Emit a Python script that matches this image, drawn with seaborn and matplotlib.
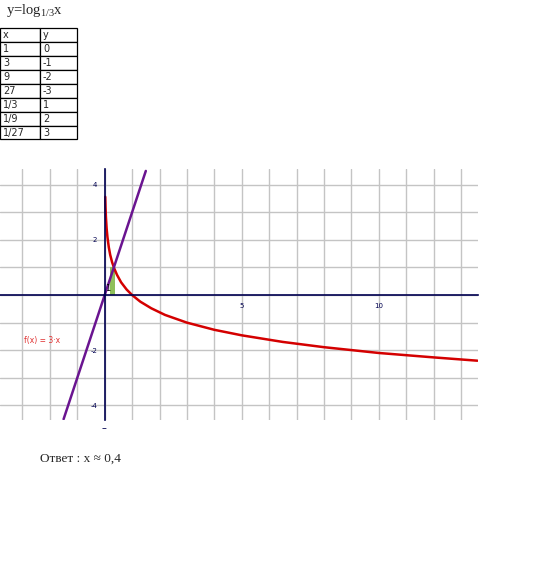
import numpy as np
import pandas as pd
import seaborn as sns
import matplotlib.pyplot as plt

# table of values for y = log_{1/3} x
table_x = ['1', '3', '9', '27', '1/3', '1/9', '1/27']
table_y = ['0', '-1', '-2', '-3', '1', '2', '3']

# points of the red curve
log_x = [0.02, 0.03, 0.045, 0.07, 0.1, 0.15, 0.2, 0.27, 0.35, 0.45, 0.6, 0.8,
         1, 1.3, 1.7, 2.2, 3, 4, 5, 6.5, 8, 10, 12, 13.6]
log_y = [3.56, 3.19, 2.82, 2.42, 2.10, 1.73, 1.46, 1.19, 0.96, 0.73, 0.46, 0.20,
         0, -0.24, -0.48, -0.72, -1, -1.26, -1.46, -1.70, -1.89, -2.10, -2.26, -2.38]

# purple line f(x) = 3x
line_x = [-1.5, 1.5]
line_y = [-4.5, 4.5]

# answer band near the intersection
band_x = [0.19, 0.36]
band_top = [1.02, 1.02]

x_ticks = list(range(-3, 14))
x_labels = ['5' if t == 5 else '10' if t == 10 else '' for t in x_ticks]
y_ticks = list(range(-4, 5))
y_labels = [str(t) if t in (-4, -2, 2, 4) else '' for t in y_ticks]

sns.set_style('white')
plt.rcParams['mathtext.fontset'] = 'custom'
plt.rcParams['mathtext.rm'] = 'Liberation Serif'

W, H = 541, 563
fig = plt.figure(figsize=(W / 100, H / 100), dpi=100)

# title
fig.text(6 / W, 1 - 14 / H, r'y=log$_{\mathrm{1/3}}$x', family='Liberation Serif',
         fontsize=10.5, ha='left', va='baseline')

# table
tax = fig.add_axes([0, 1 - 139.5 / H, 76.5 / W, 111.5 / H])
tax.axis('off')
cells = [['x', 'y']] + [[a, b] for a, b in zip(table_x, table_y)]
tbl = tax.table(cellText=cells, cellLoc='left', colWidths=[40 / 76.5, 36.5 / 76.5],
                bbox=[0, 0, 1, 1])
tbl.auto_set_font_size(False)
for (r, c), cell in tbl.get_celld().items():
    cell.set_fontsize(7)
    cell.set_linewidth(0.9)
    cell.set_edgecolor('black')
    cell.PAD = 0.08

# graph
ax = fig.add_axes([0, 1 - 420 / H, 478 / W, 251 / H])
ax.set_xlim(-3.82, 13.62)
ax.set_ylim(-4.53, 4.57)

ax.grid(True, color='#c4c4c4', linewidth=1.0)
ax.set_axisbelow(True)

ax.fill_between(band_x, 0, band_top, color='#8fbf5a', linewidth=0, zorder=1.5)
curve = pd.DataFrame({'x': log_x, 'y': log_y})
sns.lineplot(data=curve, x='x', y='y', ax=ax, color='#d40000', linewidth=1.8,
             sort=False, estimator=None)
lin = pd.DataFrame({'x': line_x, 'y': line_y})
sns.lineplot(data=lin, x='x', y='y', ax=ax, color='#6a1490', linewidth=1.8,
             sort=False, estimator=None)

for side in ['top', 'right']:
    ax.spines[side].set_visible(False)
for side in ['left', 'bottom']:
    ax.spines[side].set_position('zero')
    ax.spines[side].set_color('#000050')
    ax.spines[side].set_linewidth(1.2)

ax.set_xticks(x_ticks)
ax.set_xticklabels(x_labels)
ax.set_yticks(y_ticks)
ax.set_yticklabels(y_labels)
ax.tick_params(axis='both', direction='inout', length=5, width=1.0,
               colors='#000050', labelsize=5, pad=3)
ax.set_xlabel('')
ax.set_ylabel('')

ax.text(0.02, 0.08, '1', fontsize=6, color='black', ha='left', va='bottom', zorder=5)
ax.text(-2.3, -1.65, 'f(x) = 3·x', fontsize=5.5, color='#e03030', ha='center', va='center')

fig.text(104 / W, 1 - 428 / H, '–', fontsize=7, color='#000050', ha='center', va='center')

# answer
fig.text(40 / W, 1 - 462 / H, 'Ответ : x ≈ 0,4', family='Liberation Serif',
         fontsize=9.5, ha='left', va='baseline')

fig.savefig('out.png', dpi=100)
